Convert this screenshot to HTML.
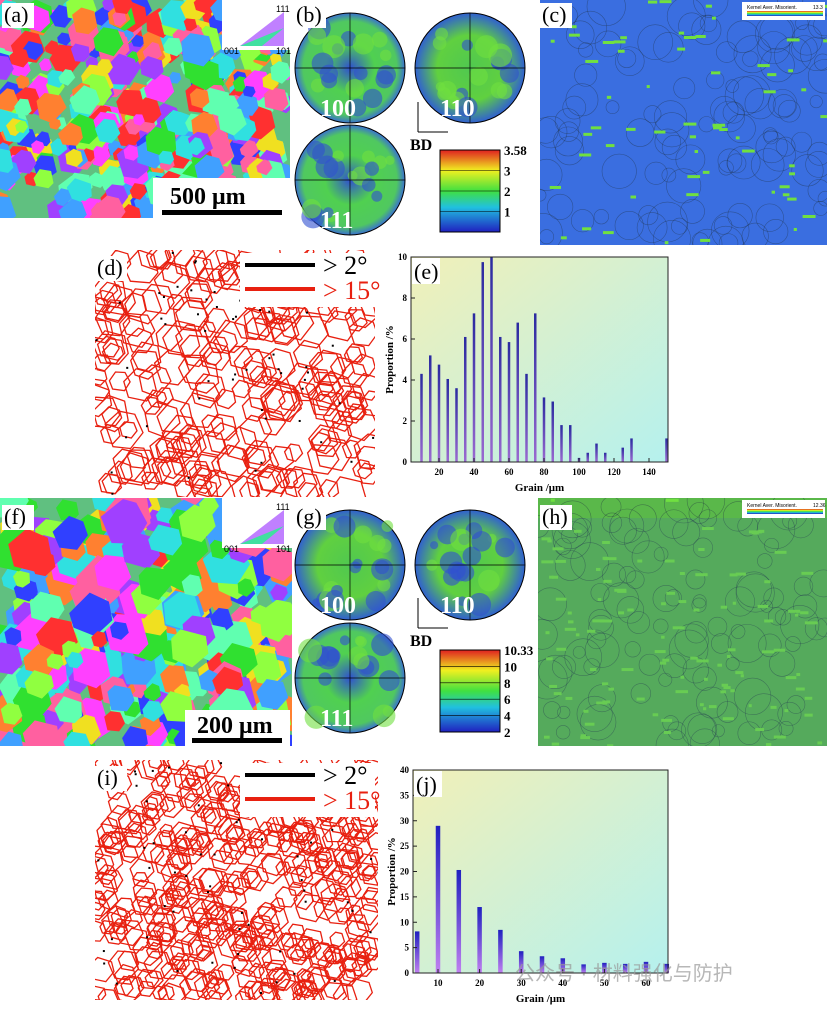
<!DOCTYPE html>
<html><head><meta charset="utf-8"><style>
body{margin:0;background:#fff;width:827px;height:1009px;position:relative;overflow:hidden;font-family:"Liberation Serif",serif}
svg{position:absolute;left:0;top:0}
</style></head><body>
<svg id="s" width="827" height="1009">
<defs>
<linearGradient id="bgE" x1="0" y1="0" x2="1" y2="1"><stop offset="0" stop-color="#f1f0b8"/><stop offset="1" stop-color="#b5f1ee"/></linearGradient>
<linearGradient id="barg" x1="0" y1="0" x2="0" y2="1"><stop offset="0" stop-color="#2a2aa0"/><stop offset="1" stop-color="#9a6ad0"/></linearGradient>
<linearGradient id="barj" x1="0" y1="0" x2="0" y2="1"><stop offset="0" stop-color="#2020c0"/><stop offset="1" stop-color="#c080f0"/></linearGradient>
<radialGradient id="pf1"><stop offset="0" stop-color="#3050d0"/><stop offset=".45" stop-color="#50d050"/><stop offset=".85" stop-color="#50c860"/><stop offset="1" stop-color="#3a70d0"/></radialGradient>
<radialGradient id="pf2"><stop offset="0" stop-color="#50c850"/><stop offset=".6" stop-color="#60d040"/><stop offset="1" stop-color="#3060d0"/></radialGradient>
<linearGradient id="cb" x1="0" y1="1" x2="0" y2="0"><stop offset="0" stop-color="#2020c0"/><stop offset=".3" stop-color="#20c0e0"/><stop offset=".5" stop-color="#40e040"/><stop offset=".75" stop-color="#f0f020"/><stop offset="1" stop-color="#e02020"/></linearGradient>
<clipPath id="ca"><rect x="0" y="0" width="290" height="218"/></clipPath>
<clipPath id="cf"><rect x="0" y="498" width="292" height="248"/></clipPath>
<clipPath id="cc"><rect x="540" y="0" width="287" height="245"/></clipPath>
<clipPath id="ch"><rect x="538" y="498" width="289" height="248"/></clipPath>
<clipPath id="cd"><rect x="95" y="250" width="280" height="247"/></clipPath>
<clipPath id="ci"><rect x="95" y="760" width="283" height="240"/></clipPath>
</defs>
<g id="art"></g>
<g id="charts"></g>
</svg>
<script>
const eCats=[10,15,20,25,30,35,40,45,50,55,60,65,70,75,80,85,90,95,100,105,110,115,120,125,130,135,140,145,150];
const eVals=[4.3,5.2,4.75,4.05,3.6,6.1,7.25,9.75,10,6.1,5.85,6.8,4.3,7.25,3.15,2.95,1.8,1.8,0.2,0.45,0.9,0.45,0,0.7,1.15,0,0,0,1.15];
const eXTicks=[20,40,60,80,100,120,140];
const eYTicks=[0,2,4,6,8,10];
const jCats=[5,10,15,20,25,30,35,40,45,50,55,60,65];
const jVals=[8.2,29,20.3,13,8.5,4.3,3.3,2.9,1.7,2,1.8,2.2,1.8];
const jXTicks=[10,20,30,40,50,60];
const jYTicks=[0,5,10,15,20,25,30,35,40];

const NS='http://www.w3.org/2000/svg';
function mk(p,t,a,txt){const e=document.createElementNS(NS,t);for(const k in a)e.setAttribute(k,a[k]);if(txt!==undefined)e.textContent=txt;p.appendChild(e);return e;}
let seed=7;function rnd(){seed=(seed*16807)%2147483647;return seed/2147483647;}
const art=document.getElementById('art');

function ipf(x,y,w,h,clip,n,r,name){
 const g=mk(art,'g',{'clip-path':'url(#'+clip+')'});
 
 mk(g,'rect',{x:x,y:y,width:w,height:h,fill:'#60c080'});
 const cols=['#ff3030','#30e030','#3040ff','#ff40ff','#30e0e0','#f0e020','#ff8030','#a040ff','#40a0ff','#90ff40','#ff60a0','#60ffb0'];
 for(let i=0;i<n;i++){const cx=x+rnd()*w,cy=y+rnd()*h,rr=r*(0.5+rnd());let pts=[];for(let k=0;k<6;k++){const a=k*Math.PI/3+rnd()*.5;pts.push((cx+rr*Math.cos(a)).toFixed(1)+','+(cy+rr*Math.sin(a)).toFixed(1));}
 mk(g,'polygon',{points:pts.join(' '),fill:cols[Math.floor(rnd()*cols.length)]});}
}
ipf(0,0,290,218,'ca',420,12,'ipf-map-a');
ipf(0,498,292,248,'cf',300,16,'ipf-map-f');
function tri(x,y,name){const g=mk(art,'g',{});
 mk(g,'rect',{x:x-10,y:y-8,width:70,height:50,fill:'#fff'});
 mk(g,'polygon',{points:`${x+8},${y+38} ${x+52},${y+38} ${x+52},${y+4}`,fill:'#c080ff'});
 mk(g,'polygon',{points:`${x+8},${y+38} ${x+30},${y+38} ${x+52},${y+20}`,fill:'#40e0a0'});
 mk(g,'text',{x:x+44,y:y+4,'font-size':9,'font-family':'Liberation Sans'},'111');
 mk(g,'text',{x:x-8,y:y+46,'font-size':9,'font-family':'Liberation Sans'},'001');
 mk(g,'text',{x:x+44,y:y+46,'font-size':9,'font-family':'Liberation Sans'},'101');}
tri(232,8,'ipf-legend-a');tri(232,506,'ipf-legend-f');
mk(art,'rect',{x:153,y:178,width:137,height:40,fill:'#fff'});
mk(art,'text',{x:170,y:204,'font-size':24,'font-weight':'bold',},'500 μm');
mk(art,'rect',{x:162,y:210,width:120,height:5,fill:'#000'});
mk(art,'rect',{x:185,y:710,width:105,height:36,fill:'#fff'});
mk(art,'text',{x:197,y:733,'font-size':24,'font-weight':'bold',},'200 μm');
mk(art,'rect',{x:192,y:738,width:90,height:5,fill:'#000'});

function kam(x,y,w,h,clip,base,dots,name,maxv){
 const g=mk(art,'g',{'clip-path':'url(#'+clip+')'});
 
 mk(g,'rect',{x:x,y:y,width:w,height:h,fill:base});
 for(let i=0;i<110;i++){mk(g,'circle',{cx:x+rnd()*w,cy:y+rnd()*h,r:6+rnd()*14,fill:'none',stroke:'#203040','stroke-width':0.6,opacity:0.45});}
 for(let i=0;i<dots;i++){mk(g,'rect',{x:x+rnd()*w,y:y+rnd()*h,width:3+rnd()*10,height:3,fill:'#70e040'});}
 mk(g,'rect',{x:x+w-85,y:y+2,width:83,height:18,fill:'#fff'});
 mk(g,'rect',{x:x+w-80,y:y+11,width:76,height:5,fill:'url(#cb)'});
 mk(g,'text',{x:x+w-80,y:y+9,'font-size':5,'font-family':'Liberation Sans'},'Kernel Aver. Misorient.');
 mk(g,'text',{x:x+w-14,y:y+9,'font-size':5,'font-family':'Liberation Sans'},maxv);
}
kam(540,0,287,245,'cc','#3a6ee0',60,'kam-map-c','13.3');
kam(538,498,289,248,'ch','#5ab84a',120,'kam-map-h','12.36');
mk(art,'rect',{x:538,y:518,width:289,height:228,fill:'#3a60c0',opacity:0.15});

function pf(cx,cy,label,fill,name){const g=mk(art,'g',{});
 mk(g,'circle',{cx:cx,cy:cy,r:55,fill:'url(#'+fill+')',stroke:'#000'});
 for(let i=0;i<18;i++){mk(g,'circle',{cx:cx+(rnd()-0.5)*80,cy:cy+(rnd()-0.5)*80,r:4+rnd()*8,fill:rnd()>0.5?'#3050d0':'#70e040',opacity:0.6});}
 mk(g,'line',{x1:cx-55,y1:cy,x2:cx+55,y2:cy,stroke:'#000','stroke-width':0.7});
 mk(g,'line',{x1:cx,y1:cy-55,x2:cx,y2:cy+55,stroke:'#000','stroke-width':0.7});
 mk(g,'text',{x:cx-30,y:cy+48,'font-size':24,'font-weight':'bold',fill:'#fff'},label);}
pf(350,68,'100','pf1','pole-figure-100-b');pf(470,68,'110','pf2','pole-figure-110-b');pf(350,180,'111','pf1','pole-figure-111-b');
pf(350,565,'100','pf2','pole-figure-100-g');pf(470,565,'110','pf2','pole-figure-110-g');pf(350,678,'111','pf1','pole-figure-111-g');
function bd(x,y){mk(art,'line',{x1:x,y1:y,x2:x,y2:y-30,stroke:'#000'});mk(art,'line',{x1:x,y1:y,x2:x+30,y2:y,stroke:'#000'});
 mk(art,'text',{x:x-8,y:y+18,'font-size':16,'font-weight':'bold'},'BD');}
bd(418,132);bd(418,628);
function cbar(x,y,labels,name){const g=mk(art,'g',{});
 mk(g,'rect',{x:x,y:y,width:60,height:82,fill:'url(#cb)',stroke:'#000'});
 labels.forEach((l,i)=>{const yy=y+i*82/(labels.length-1);mk(g,'line',{x1:x,y1:yy,x2:x+60,y2:yy,stroke:'#000','stroke-width':.6});
 mk(g,'text',{x:x+64,y:yy+5,'font-size':13,'font-weight':'bold'},l);});}
cbar(440,150,['3.58','3','2','1',''],'colorbar-b');
cbar(440,650,['10.33','10','8','6','4','2'],'colorbar-g');

function gb(x,y,w,h,clip,n,r,name){const g=mk(art,'g',{'clip-path':'url(#'+clip+')'});
 
 mk(g,'rect',{x:x,y:y,width:w,height:h,fill:'#fff'});
 for(let i=0;i<n;i++){const cx=x+rnd()*w,cy=y+rnd()*h,rr=r*(0.6+rnd()*0.8);let pts=[];for(let k=0;k<6;k++){const a=k*Math.PI/3+rnd()*.4;pts.push((cx+rr*Math.cos(a)).toFixed(1)+','+(cy+rr*Math.sin(a)).toFixed(1));}
 mk(g,'polygon',{points:pts.join(' '),fill:'none',stroke:'#e82010','stroke-width':1.3});}
 for(let i=0;i<60;i++)mk(g,'rect',{x:x+rnd()*w,y:y+rnd()*h,width:2,height:2,fill:'#000'});}
gb(95,250,280,247,'cd',230,14,'boundary-map-d');
gb(95,760,283,240,'ci',420,11,'boundary-map-i');
function leg(x,y){const g=mk(art,'g',{});
 mk(g,'rect',{x:x-5,y:y-12,width:135,height:54,fill:'#fff'});
 mk(g,'line',{x1:x,y1:y,x2:x+70,y2:y,stroke:'#000','stroke-width':4});
 mk(g,'text',{x:x+78,y:y+9,'font-size':26},'> 2°');
 mk(g,'line',{x1:x,y1:y+24,x2:x+70,y2:y+24,stroke:'#e82010','stroke-width':4});
 mk(g,'text',{x:x+78,y:y+34,'font-size':26,fill:'#e82010'},'> 15°');}
leg(245,265);leg(245,775);

[['(a)',4,22],['(b)',296,22],['(c)',542,22],['(d)',97,275],['(f)',4,524],['(g)',296,524],['(h)',542,524],['(i)',97,785]].forEach(p=>{
 mk(art,'rect',{x:p[1]-2,y:p[2]-19,width:32,height:25,fill:'#fff'});
 const t=mk(art,'text',{x:p[1],y:p[2],'font-size':22},p[0]);});

const ch=document.getElementById('charts');
function chart(o){
 const g=mk(ch,'g',{});
 const X=v=>o.x0+(v-o.xmin)*o.xs, Y=v=>o.yb-(v/o.ymax)*(o.yb-o.yt);
 mk(g,'rect',{x:o.l,y:o.yt,width:o.r-o.l,height:o.yb-o.yt,fill:'url(#bgE)'});
 o.cats.forEach((c,i)=>{const b=mk(g,'rect',{x:X(c)-o.bw/2,y:Y(o.vals[i]),width:o.bw,height:o.yb-Y(o.vals[i]),fill:o.fill});
  });
 mk(g,'rect',{x:o.l,y:o.yt,width:o.r-o.l,height:o.yb-o.yt,fill:'none',stroke:'#222','stroke-width':1});
 o.yt_.forEach(v=>{mk(g,'line',{x1:o.l,y1:Y(v),x2:o.l+4,y2:Y(v),stroke:'#222'});
  mk(g,'text',{x:o.l-4,y:Y(v)+3,'font-size':9,'font-weight':'bold','text-anchor':'end'},v);});
 o.xt.forEach(v=>{mk(g,'line',{x1:X(v),y1:o.yb,x2:X(v),y2:o.yb-4,stroke:'#222'});
  mk(g,'text',{x:X(v),y:o.yb+13,'font-size':9,'font-weight':'bold','text-anchor':'middle'},v);});
 const xl=mk(g,'text',{x:(o.l+o.r)/2,y:o.yb+29,'font-size':11,'font-weight':'bold','text-anchor':'middle'},'Grain  /μm');
 
 const yl=mk(g,'text',{x:0,y:0,'font-size':11,'font-weight':'bold','text-anchor':'middle',transform:`translate(${o.l-18},${(o.yt+o.yb)/2}) rotate(-90)`},'Proportion /%');
 
 mk(g,'rect',{x:o.l+1,y:o.yt+1,width:28,height:26,fill:'#fff'});
 mk(g,'text',{x:o.l+3,y:o.yt+22,'font-size':22},o.lab);
}
chart({name:'grain-size-chart-e',l:411,r:668,yt:257,yb:462,x0:404,xmin:0,xs:1.75,ymax:10,cats:eCats,vals:eVals,xt:eXTicks,yt_:eYTicks,bw:2.5,fill:'url(#barg)',lab:'(e)'});
chart({name:'grain-size-chart-j',l:413,r:668,yt:770,yb:973,x0:396.4,xmin:0,xs:4.16,ymax:40,cats:jCats,vals:jVals,xt:jXTicks,yt_:jYTicks,bw:4.5,fill:'url(#barj)',lab:'(j)'});
const wm=mk(ch,'text',{x:515,y:980,'font-size':20,fill:'#999',opacity:0.7,'font-family':'"Liberation Sans","Noto Sans CJK SC",sans-serif'},'公众号 · 材料强化与防护');

</script>
</body></html>
